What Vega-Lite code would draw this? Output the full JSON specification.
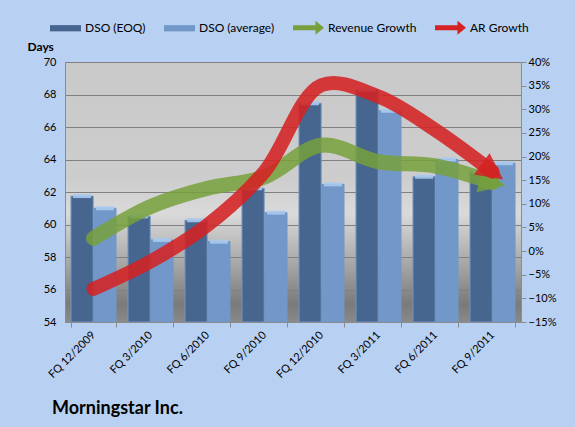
{
  "$schema": "https://vega.github.io/schema/vega-lite/v6.json",
  "width": 456,
  "height": 260,
  "autosize": {"type": "none"},
  "padding": {"left": 65, "top": 62, "right": 54, "bottom": 105},
  "background": "#b8d0f2",
  "config": {
    "font": "Lato",
    "view": {
      "fill": {
        "gradient": "linear", "x1": 0, "y1": 0, "x2": 0, "y2": 1,
        "stops": [
          {"offset": 0, "color": "#c9c9c9"},
          {"offset": 0.45, "color": "#cdcdcd"},
          {"offset": 0.58, "color": "#dadada"},
          {"offset": 0.8, "color": "#a0a0a0"},
          {"offset": 0.93, "color": "#7a7a7a"},
          {"offset": 1, "color": "#8a8a8a"}
        ]
      },
      "stroke": "#8c8c8c"
    },
    "axis": {"labelFont": "Lato", "labelFontSize": 11, "labelColor": "#000", "titleFont": "Lato"},
    "legend": {
      "title": null,
      "orient": "none",
      "legendX": -15,
      "legendY": -50,
      "direction": "horizontal",
      "columns": 4,
      "columnPadding": 18,
      "symbolSize": 961,
      "symbolOpacity": 1,
      "symbolStrokeWidth": 0,
      "labelOffset": 4,
      "labelFont": "Lato",
      "labelFontSize": 12,
      "labelColor": "#000"
    }
  },
  "title": {
    "text": "Morningstar Inc.",
    "orient": "bottom",
    "anchor": "start",
    "frame": "group",
    "dx": -13,
    "offset": 20,
    "font": "Lato",
    "fontSize": 18,
    "fontWeight": "bold",
    "color": "#000"
  },
  "data": {
    "values": [
      {"q": "FQ 12/2009", "series": "DSO (EOQ)", "value": 61.75},
      {"q": "FQ 3/2010", "series": "DSO (EOQ)", "value": 60.5},
      {"q": "FQ 6/2010", "series": "DSO (EOQ)", "value": 60.26},
      {"q": "FQ 9/2010", "series": "DSO (EOQ)", "value": 62.23},
      {"q": "FQ 12/2010", "series": "DSO (EOQ)", "value": 67.46},
      {"q": "FQ 3/2011", "series": "DSO (EOQ)", "value": 68.3},
      {"q": "FQ 6/2011", "series": "DSO (EOQ)", "value": 62.94},
      {"q": "FQ 9/2011", "series": "DSO (EOQ)", "value": 63.25},
      {"q": "FQ 12/2009", "series": "DSO (average)", "value": 61.0},
      {"q": "FQ 3/2010", "series": "DSO (average)", "value": 59.05},
      {"q": "FQ 6/2010", "series": "DSO (average)", "value": 58.94},
      {"q": "FQ 9/2010", "series": "DSO (average)", "value": 60.73},
      {"q": "FQ 12/2010", "series": "DSO (average)", "value": 62.47},
      {"q": "FQ 3/2011", "series": "DSO (average)", "value": 67.0},
      {"q": "FQ 6/2011", "series": "DSO (average)", "value": 64.0},
      {"q": "FQ 9/2011", "series": "DSO (average)", "value": 63.77},
      {"q": "FQ 12/2009", "series": "Revenue Growth", "value": 0.027},
      {"q": "FQ 3/2010", "series": "Revenue Growth", "value": 0.094},
      {"q": "FQ 6/2010", "series": "Revenue Growth", "value": 0.133},
      {"q": "FQ 9/2010", "series": "Revenue Growth", "value": 0.157},
      {"q": "FQ 12/2010", "series": "Revenue Growth", "value": 0.224},
      {"q": "FQ 3/2011", "series": "Revenue Growth", "value": 0.189},
      {"q": "FQ 6/2011", "series": "Revenue Growth", "value": 0.18},
      {"q": "FQ 9/2011", "series": "Revenue Growth", "value": 0.145},
      {"q": "FQ 12/2009", "series": "AR Growth", "value": -0.08},
      {"q": "FQ 3/2010", "series": "AR Growth", "value": -0.022},
      {"q": "FQ 6/2010", "series": "AR Growth", "value": 0.055},
      {"q": "FQ 9/2010", "series": "AR Growth", "value": 0.168},
      {"q": "FQ 12/2010", "series": "AR Growth", "value": 0.351},
      {"q": "FQ 3/2011", "series": "AR Growth", "value": 0.327},
      {"q": "FQ 6/2011", "series": "AR Growth", "value": 0.256},
      {"q": "FQ 9/2011", "series": "AR Growth", "value": 0.168}
    ]
  },
  "encoding": {
    "x": {
      "field": "q",
      "type": "nominal",
      "sort": null,
      "title": null,
      "scale": {"paddingInner": 0.21, "paddingOuter": 0.105},
      "axis": {
        "labelAngle": -45,
        "labelAlign": "right",
        "labelBaseline": "middle",
        "labelPadding": 6,
        "tickBand": "extent",
        "tickSize": 5,
        "tickColor": "#8c8c8c",
        "domainColor": "#8c8c8c"
      }
    }
  },
  "layer": [
    {
      "transform": [{"filter": "indexof(['DSO (EOQ)', 'DSO (average)'], datum.series) >= 0"}],
      "encoding": {
        "xOffset": {"field": "series", "type": "nominal", "sort": ["DSO (EOQ)", "DSO (average)"], "scale": {"paddingInner": 0.03}},
        "y": {
          "field": "value",
          "type": "quantitative",
          "title": "Days",
          "scale": {"domain": [54, 70], "zero": false, "nice": false},
          "axis": {
            "orient": "left",
            "values": [54, 56, 58, 60, 62, 64, 66, 68, 70],
            "grid": true,
            "gridColor": "#808080",
            "ticks": false,
            "domain": false,
            "labelPadding": 9,
            "titleAngle": 0,
            "titleX": -38,
            "titleY": -9,
            "titleAlign": "left",
            "titleBaseline": "bottom",
            "titleFontSize": 12,
            "titleFontWeight": "bold",
            "titleColor": "#000"
          }
        }
      },
      "layer": [
        {
          "mark": {"type": "bar", "stroke": "#7496c4", "strokeWidth": 1, "clip": true},
          "encoding": {
            "y2": {"datum": 54},
            "color": {
              "field": "series",
              "type": "nominal",
              "scale": {
                "domain": ["DSO (EOQ)", "DSO (average)", "Revenue Growth", "AR Growth"],
                "range": ["#46658f", "#7198c9", "#77a03c", "#d42222"]
              }
            }
          }
        },
        {
          "mark": {"type": "tick", "color": "#a9c9ee", "thickness": 4, "size": 18, "opacity": 0.9}
        },
        {
          "transform": [{"filter": "datum.value < 0"}],
          "mark": {"type": "point", "filled": true},
          "encoding": {
            "color": {"field": "series", "type": "nominal"},
            "shape": {
              "field": "series",
              "type": "nominal",
              "scale": {
                "domain": ["DSO (EOQ)", "DSO (average)", "Revenue Growth", "AR Growth"],
                "range": [
                  "M-1,-0.2L1,-0.2L1,0.2L-1,0.2Z",
                  "M-1,-0.2L1,-0.2L1,0.2L-1,0.2Z",
                  "M-1,-0.16L0.45,-0.16L0.45,-0.45L1,0L0.45,0.45L0.45,0.16L-1,0.16Z",
                  "M-1,-0.16L0.45,-0.16L0.45,-0.45L1,0L0.45,0.45L0.45,0.16L-1,0.16Z"
                ]
              }
            }
          }
        }
      ]
    },
    {
      "encoding": {
        "y": {
          "field": "value",
          "type": "quantitative",
          "title": null,
          "scale": {"domain": [-0.15, 0.4], "nice": false, "zero": false},
          "axis": {
            "orient": "right",
            "values": [-0.15, -0.1, -0.05, 0, 0.05, 0.1, 0.15, 0.2, 0.25, 0.3, 0.35, 0.4],
            "format": ".0%",
            "grid": false,
            "tickSize": 5,
            "tickColor": "#8c8c8c",
            "domainColor": "#8c8c8c",
            "labelPadding": 2
          }
        }
      },
      "layer": [
        {
          "transform": [{"filter": "datum.series === 'Revenue Growth'"}],
          "mark": {"type": "line", "interpolate": "catmull-rom", "strokeWidth": 15, "strokeCap": "round", "color": "#77a03c", "opacity": 0.85}
        },
        {
          "transform": [{"filter": "datum.series === 'Revenue Growth' && datum.q === 'FQ 9/2011'"}],
          "mark": {"type": "point", "filled": true, "shape": "M1,0L-1,-1L-1,1Z", "size": 700, "angle": 14, "color": "#77a03c", "opacity": 0.85}
        },
        {
          "transform": [{"filter": "datum.series === 'AR Growth'"}],
          "mark": {"type": "line", "interpolate": "catmull-rom", "strokeWidth": 14, "strokeCap": "round", "color": "#d42222", "opacity": 0.88}
        },
        {
          "transform": [{"filter": "datum.series === 'AR Growth' && datum.q === 'FQ 9/2011'"}],
          "mark": {"type": "point", "filled": true, "shape": "M1,0L-1,-1L-1,1Z", "size": 700, "angle": 36, "color": "#d42222", "opacity": 0.88}
        }
      ]
    }
  ],
  "resolve": {"scale": {"y": "independent"}}
}
